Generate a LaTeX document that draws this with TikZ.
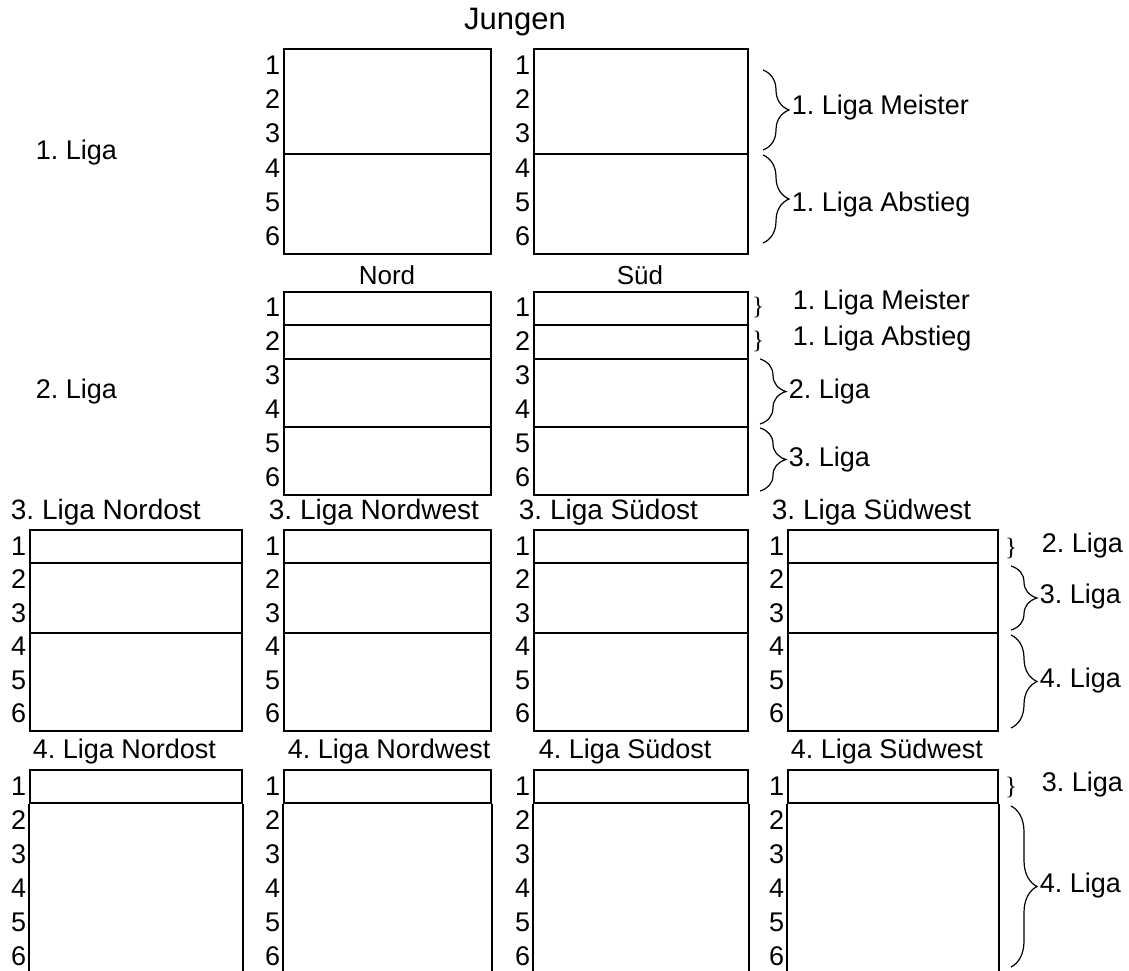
\documentclass[tikz,border=0pt]{standalone}
\usepackage{fontspec}
\setmainfont{Liberation Sans}
\newfontfamily\bracefont{Liberation Serif}
\usetikzlibrary{positioning, decorations.pathreplacing}
\frenchspacing

\begin{document}
\begin{tikzpicture}[
    x=1pt, y=-1pt, line width=1.8pt,
    cell/.style 2 args={draw, rectangle, anchor=north west, inner sep=0pt, minimum width=#1, minimum height=#2},
    num/.style={anchor=east, inner sep=1pt, font=\fontsize{27}{30}\selectfont},
    lbl/.style={anchor=west, inner sep=0pt, font=\fontsize{27}{30}\selectfont},
    head/.style={anchor=west, inner sep=0pt, font=\fontsize{27}{30}\selectfont},
    sbrace/.style={inner sep=0pt, font=\bracefont\fontsize{25}{28}\selectfont},
    brace/.style={decorate, line width=1.2pt, decoration={brace, amplitude=26pt}}
]
\useasboundingbox (0,0) rectangle (1129,971);

% -------------------------
% 1. Liga (Jungen)
% -------------------------
\node[font=\fontsize{31}{34}\selectfont] (Jungen) at (515,22) {Jungen};
\node[lbl] (LigaEins) at (35,153) {1. Liga};

\node[cell={207}{105}] (NordOben) at (283,48) {};
\node[cell={207}{100}] (NordUnten) at (283,153) {};
\node[cell={214}{105}] (SuedOben) at (533,48) {};
\node[cell={214}{100}] (SuedUnten) at (533,153) {};

\foreach \i/\y in {1/65, 2/99, 3/133, 4/168, 5/202, 6/236} {
    \node[num] (JN\i) at (282,\y) {\i};
    \node[num] (JS\i) at (532,\y) {\i};
}

\coordinate (MeisterA) at (763,70);
\coordinate (MeisterB) at (763,150);
\coordinate (AbstiegA) at (763,155);
\coordinate (AbstiegB) at (763,243);
\draw[brace] (MeisterA) -- (MeisterB);
\draw[brace] (AbstiegA) -- (AbstiegB);
\node[lbl] (MeisterLabel) at (791,108) {1. Liga Meister};
\node[lbl] (AbstiegLabel) at (791,205) {1. Liga Abstieg};

% -------------------------
% 2. Liga (Nord / Sued)
% -------------------------
\node[lbl] (LigaZwei) at (35,392) {2. Liga};
\node[font=\fontsize{26}{29}\selectfont] (Nord) at (387,275) {Nord};
\node[font=\fontsize{26}{29}\selectfont] (Sued) at (640,275) {Süd};

\node[cell={207}{33}] (ZN1) at (283,291) {};
\node[cell={207}{34}] (ZN2) at (283,324) {};
\node[cell={207}{68}] (ZN3) at (283,358) {};
\node[cell={207}{68}] (ZN4) at (283,426) {};
\node[cell={214}{33}] (ZS1) at (533,291) {};
\node[cell={214}{34}] (ZS2) at (533,324) {};
\node[cell={214}{68}] (ZS3) at (533,358) {};
\node[cell={214}{68}] (ZS4) at (533,426) {};

\foreach \i/\y in {1/307, 2/341, 3/375, 4/409, 5/443, 6/477} {
    \node[num] (ZNn\i) at (282,\y) {\i};
    \node[num] (ZSn\i) at (532,\y) {\i};
}

\node[sbrace] (ZB1) at (758,307) {\}};
\node[sbrace] (ZB2) at (758,341) {\}};
\node[lbl] (ZL1) at (792,303) {1. Liga Meister};
\node[lbl] (ZL2) at (792,339) {1. Liga Abstieg};

\coordinate (ZweiA) at (760,359);
\coordinate (ZweiB) at (760,424);
\coordinate (DreiA) at (760,428);
\coordinate (DreiB) at (760,491);
\draw[brace] (ZweiA) -- (ZweiB);
\draw[brace] (DreiA) -- (DreiB);
\node[lbl] (ZL3) at (788,392) {2. Liga};
\node[lbl] (ZL4) at (788,460) {3. Liga};

% -------------------------
% 3. Liga (four groups)
% -------------------------
\node[head, font=\fontsize{28}{31}\selectfont] (HdNO) at (10,512) {3. Liga Nordost};
\node[head, font=\fontsize{28}{31}\selectfont] (HdNW) at (268,512) {3. Liga Nordwest};
\node[head, font=\fontsize{28}{31}\selectfont] (HdSO) at (518,512) {3. Liga Südost};
\node[head, font=\fontsize{28}{31}\selectfont] (HdSW) at (771,512) {3. Liga Südwest};

\foreach \n/\l/\w in {NO/29/212, NW/283/207, SO/533/214, SW/787/210} {
    \node[cell={\w}{33}] (D\n1) at (\l,529) {};
    \node[cell={\w}{70}] (D\n2) at (\l,562) {};
    \node[cell={\w}{98}] (D\n3) at (\l,632) {};
    \foreach \i/\y in {1/546, 2/579, 3/613, 4/646, 5/680, 6/713}
        \node[num] (D\n n\i) at (\l-1,\y) {\i};
}

\node[sbrace] (DB1) at (1011,548) {\}};
\node[lbl] (DL1) at (1041,546) {2. Liga};
\coordinate (DdreiA) at (1011,566);
\coordinate (DdreiB) at (1011,630);
\coordinate (DvierA) at (1011,635);
\coordinate (DvierB) at (1011,728);
\draw[brace] (DdreiA) -- (DdreiB);
\draw[brace] (DvierA) -- (DvierB);
\node[lbl] (DL2) at (1039,597) {3. Liga};
\node[lbl] (DL3) at (1039,681) {4. Liga};

% -------------------------
% 4. Liga (four groups)
% -------------------------
\node[head] (HvNO) at (32,752) {4. Liga Nordost};
\node[head] (HvNW) at (287,752) {4. Liga Nordwest};
\node[head] (HvSO) at (538,752) {4. Liga Südost};
\node[head] (HvSW) at (790,752) {4. Liga Südwest};

\foreach \n/\l/\w in {NO/29/212, NW/283/207, SO/533/214, SW/787/210} {
    \node[cell={\w}{33}] (V\n1) at (\l,769) {};
    \draw (V\n1.south west) -- ++(0,175);
    \draw (V\n1.south east) -- ++(0,175);
    \foreach \i/\y in {1/786, 2/820, 3/854, 4/888, 5/922, 6/956}
        \node[num] (V\n n\i) at (\l-1,\y) {\i};
}

\node[sbrace] (VB1) at (1011,787) {\}};
\node[lbl] (VL1) at (1041,785) {3. Liga};
\coordinate (VvierA) at (1011,806);
\coordinate (VvierB) at (1011,967);
\draw[brace] (VvierA) -- (VvierB);
\node[lbl] (VL2) at (1039,886) {4. Liga};

\end{tikzpicture}
\end{document}
